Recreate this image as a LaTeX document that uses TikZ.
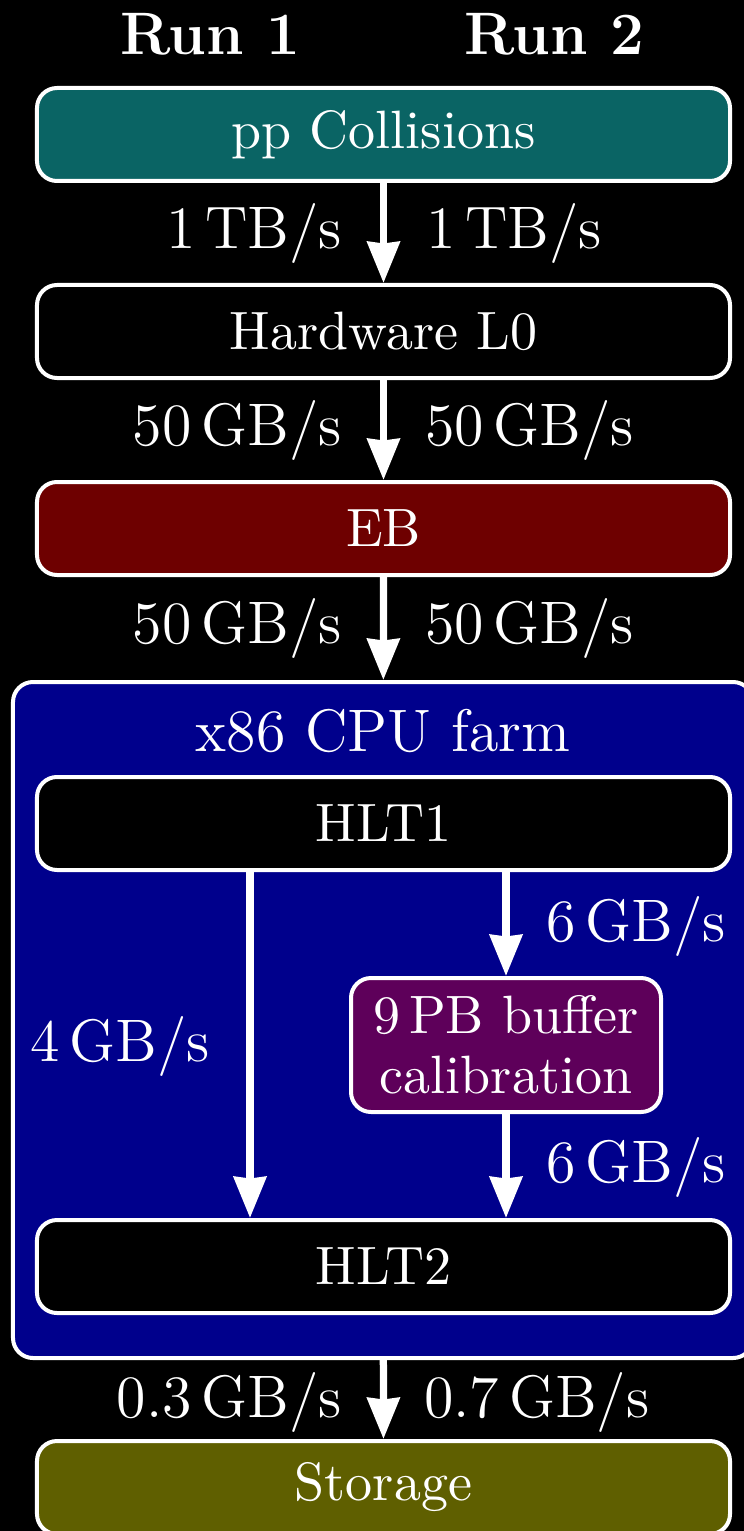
\documentclass[tikz,border=0pt]{standalone}
\usetikzlibrary{arrows.meta}

\definecolor{collcol}{HTML}{0A6464}
\definecolor{ebcol}{HTML}{6E0000}
\definecolor{farmcol}{HTML}{00008C}
\definecolor{bufcol}{HTML}{5E005A}
\definecolor{storecol}{HTML}{5F5F00}

\begin{document}
\begin{tikzpicture}[x=0.2pt,y=-0.2pt,
  txt/.style={text=white, inner sep=0pt, font=\fontsize{10.8}{12}\selectfont},
  bigtxt/.style={text=white, inner sep=0pt, font=\fontsize{12}{14}\selectfont},
  stage/.style={txt, draw=white, line width=0.8pt, rounded corners=4pt,
    minimum width=138.6pt, minimum height=18.6pt},
  flow/.style={draw=white, line width=1.45pt,
    -{Stealth[length=8.2pt,width=6.4pt,inset=0.3pt]}},
  rate/.style={bigtxt},
  runhead/.style={bigtxt, font=\fontsize{12}{14}\selectfont\bfseries},
]
% page background
\fill[black] (0,0) rectangle (744,1531);
\useasboundingbox (0,0) rectangle (744,1531);

% column headings
\node[runhead, anchor=base] (run1) at (210,55) {Run 1};
\node[runhead, anchor=base] (run2) at (554,55) {Run 2};

% upstream stages
\node[stage, fill=collcol] (pp) at (383.5,134.5) {pp Collisions};
\node[stage, fill=black]   (l0) at (383.5,331.5) {Hardware L0};
\node[stage, fill=ebcol]   (eb) at (383.5,528.5) {EB};

% CPU farm container
\node[stage, fill=farmcol, minimum width=148pt, minimum height=135.2pt]
  (farm) at (383,1020) {};
\node[bigtxt, anchor=base] (farmtitle) at (383,751) {x86 CPU farm};

\node[stage, fill=black] (hlt1) at (383.5,823.5) {HLT1};
\node[stage, fill=bufcol, minimum width=62pt, minimum height=26.8pt, align=center]
  (buf) at (506,1045) {9\,PB buffer\\calibration};
\node[stage, fill=black] (hlt2) at (383.5,1266.5) {HLT2};

% storage
\node[stage, fill=storecol] (store) at (383.5,1487.5) {Storage};

% data flow
\draw[flow] (pp) -- (l0);
\draw[flow] (l0) -- (eb);
\draw[flow] (eb) -- (farm);
\coordinate (lane) at (250,1000);
\draw[flow] (lane |- hlt1.south) -- (lane |- hlt2.north);
\draw[flow] (buf.north |- hlt1.south) -- (buf.north);
\draw[flow] (buf.south) -- (buf.south |- hlt2.north);
\draw[flow] (farm) -- (store);

% rates, Run 1 on the left, Run 2 on the right
\node[rate, anchor=base east] (r1a) at (343,248) {1\,TB/s};
\node[rate, anchor=base west] (r2a) at (425,248) {1\,TB/s};
\node[rate, anchor=base east] (r1b) at (343,445) {50\,GB/s};
\node[rate, anchor=base west] (r2b) at (424,445) {50\,GB/s};
\node[rate, anchor=base east] (r1c) at (343,643) {50\,GB/s};
\node[rate, anchor=base west] (r2c) at (424,643) {50\,GB/s};
\node[rate, anchor=base] (r1d) at (120,1061) {4\,GB/s};
\node[rate, anchor=base west] (r2d) at (545,941) {6\,GB/s};
\node[rate, anchor=base west] (r2e) at (545,1182) {6\,GB/s};
\node[rate, anchor=base east] (r1f) at (343,1417) {0.3\,GB/s};
\node[rate, anchor=base west] (r2f) at (423,1417) {0.7\,GB/s};
\end{tikzpicture}
\end{document}
